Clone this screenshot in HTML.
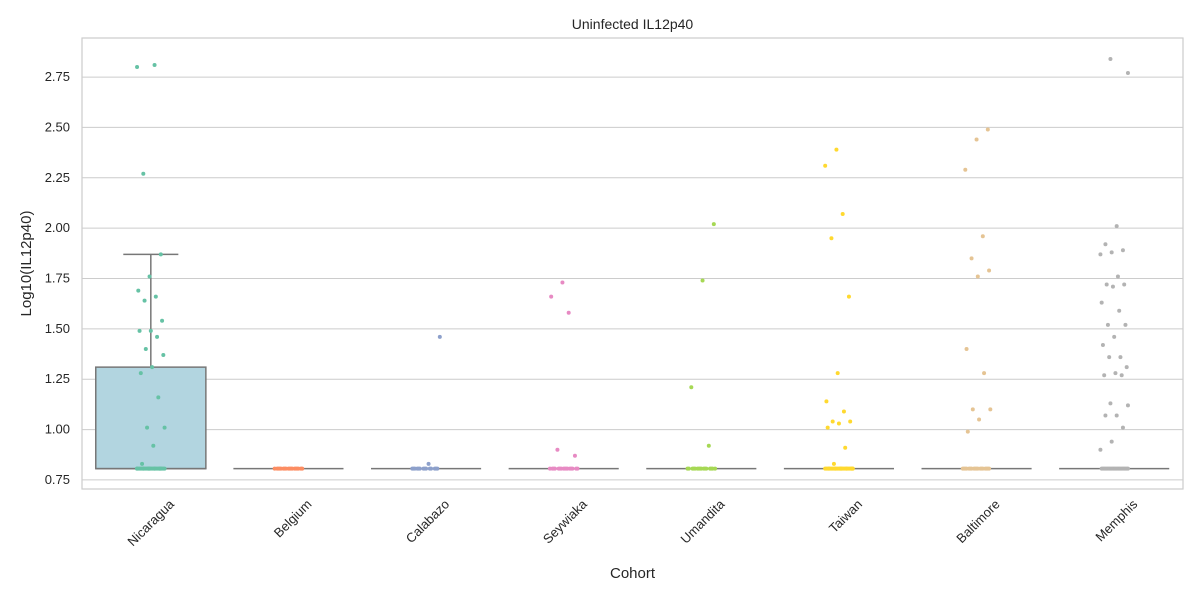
<!DOCTYPE html>
<html><head><meta charset="utf-8"><style>
body{margin:0;background:#fff;font-family:"Liberation Sans",sans-serif}
svg text{font-family:"Liberation Sans",sans-serif;fill:#262626}
</style></head><body>
<svg id="chart" width="1200" height="600" viewBox="0 0 1200 600"></svg>
<script>
const categories=["Nicaragua","Belgium","Calabazo","Seywiaka","Umandita","Taiwan","Baltimore","Memphis"];
const colors=["#66c2a5","#fc8d62","#8da0cb","#e78ac3","#a6d854","#ffd92f","#e5c494","#b3b3b3"];
const yTicks=[0.75,1.00,1.25,1.50,1.75,2.00,2.25,2.50,2.75];
const baseline=0.806;
const baseCounts=[30,18,14,16,16,30,18,22];
const outliers=[
[2.80,2.81,2.27,1.87,1.76,1.69,1.66,1.64,1.54,1.49,1.49,1.46,1.40,1.37,1.31,1.28,1.16,1.01,1.01,0.92,0.83],
[],
[1.46,0.83],
[1.73,1.66,1.58,0.90,0.87],
[2.02,1.74,1.21,0.92],
[2.39,2.31,2.07,1.95,1.66,1.28,1.14,1.09,1.04,1.04,1.03,1.01,0.91,0.83],
[2.49,2.44,2.29,1.96,1.85,1.79,1.76,1.40,1.28,1.10,1.10,1.05,0.99],
[2.84,2.77,2.01,1.92,1.89,1.88,1.87,1.76,1.72,1.72,1.71,1.63,1.59,1.52,1.52,1.46,1.42,1.36,1.36,1.31,1.28,1.27,1.27,1.13,1.12,1.07,1.07,1.01,0.94,0.90]
];
const boxQ1=[0.806,0.806,0.806,0.806,0.806,0.806,0.806,0.806];
const boxMed=[0.806,0.806,0.806,0.806,0.806,0.806,0.806,0.806];
const boxQ3=[1.31,0.806,0.806,0.806,0.806,0.806,0.806,0.806];
const whiskHi=[1.87,0.806,0.806,0.806,0.806,0.806,0.806,0.806];

const L=82,R=1183,T=38,B=489,yMin=0.705,yMax=2.944;
const svg=document.getElementById('chart');
const NS='http://www.w3.org/2000/svg';
const y=v=>B-(v-yMin)/(yMax-yMin)*(B-T);
const band=(R-L)/categories.length;
const x=i=>L+band*(i+0.5);
function mk(t,a,p){const e=document.createElementNS(NS,t);for(const k in a)e.setAttribute(k,a[k]);(p||svg).appendChild(e);return e;}

yTicks.forEach(v=>{
 const g=mk('line',{x1:L,x2:R,y1:y(v),y2:y(v),stroke:'#cccccc','stroke-width':1});
 
 
 const t=mk('text',{x:L-12,y:y(v)+4,'text-anchor':'end','font-size':13});
 t.textContent=v.toFixed(2);
 
 
});
const fr=mk('rect',{x:L,y:T,width:R-L,height:B-T,fill:'none',stroke:'#cccccc','stroke-width':1.2});



categories.forEach((c,i)=>{
 const cx=x(i),w=band*0.8;
 const g=mk('g',{});
 
 
 if(boxQ3[i]>boxQ1[i]){
  mk('line',{x1:cx,x2:cx,y1:y(boxQ3[i]),y2:y(whiskHi[i]),stroke:'#777','stroke-width':1.5},g);
  mk('line',{x1:cx-w/4,x2:cx+w/4,y1:y(whiskHi[i]),y2:y(whiskHi[i]),stroke:'#777','stroke-width':1.5},g);
  mk('rect',{x:cx-w/2,y:y(boxQ3[i]),width:w,height:y(boxQ1[i])-y(boxQ3[i]),fill:'#b2d5e0',stroke:'#777','stroke-width':1.5},g);
 }
 mk('line',{x1:cx-w/2,x2:cx+w/2,y1:y(boxMed[i]),y2:y(boxMed[i]),stroke:'#777','stroke-width':1.5},g);
 const pts=outliers[i].concat(Array(baseCounts[i]).fill(baseline));
 pts.forEach((v,k)=>{
  const off=(((k*37+i*11)%23)/22-0.5)*band*0.2;
  const d=mk('circle',{cx:cx+off,cy:y(v),r:2,fill:colors[i]});
  
  
 });
 const tx=cx+24,ty=B+16;
 const t=mk('text',{x:tx,y:ty,'text-anchor':'end','font-size':13,transform:`rotate(-45 ${tx} ${ty})`});
 t.textContent=c;
 
 
});
const tt=mk('text',{x:(L+R)/2,y:29,'text-anchor':'middle','font-size':14});
tt.textContent='Uninfected IL12p40';


const xl=mk('text',{x:(L+R)/2,y:578,'text-anchor':'middle','font-size':15});
xl.textContent='Cohort';


const yl=mk('text',{x:31,y:(T+B)/2,'text-anchor':'middle','font-size':15,transform:`rotate(-90 31 ${(T+B)/2})`});
yl.textContent='Log10(IL12p40)';


</script>
</body></html>
